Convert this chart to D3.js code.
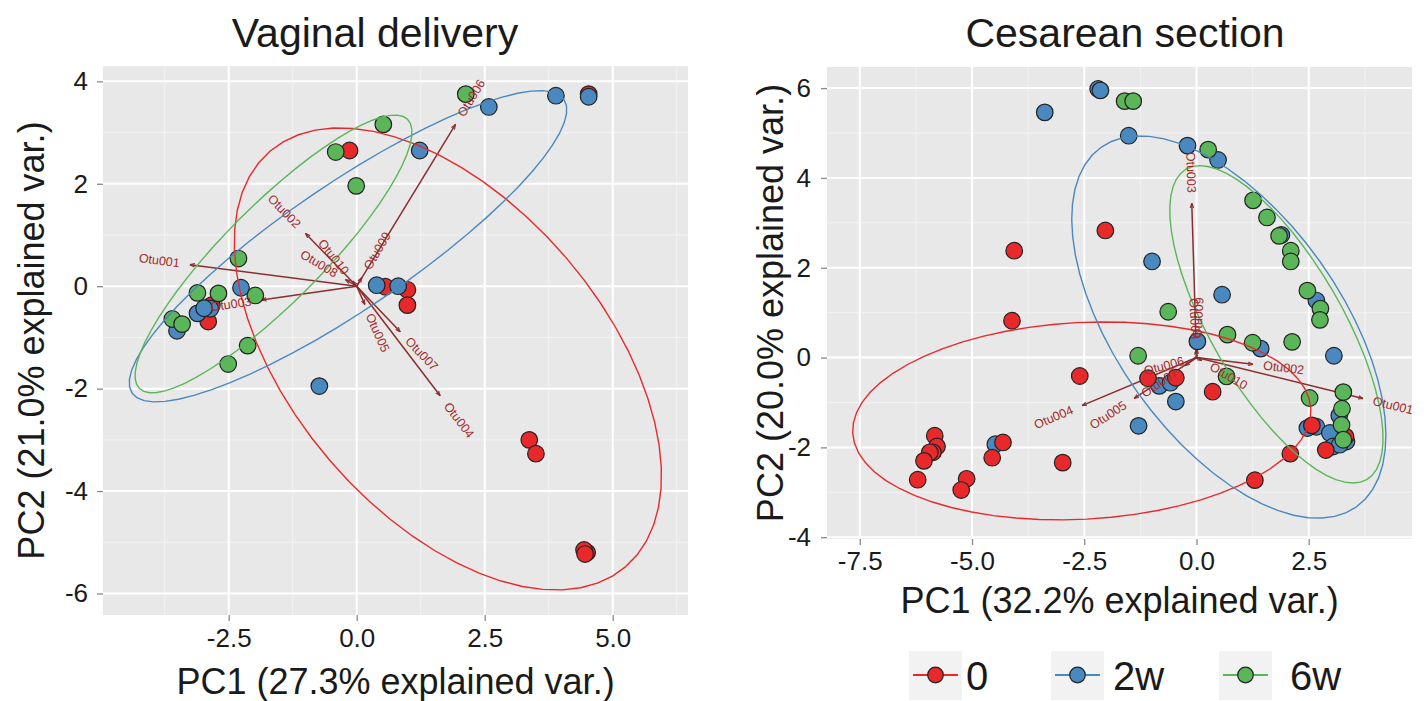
<!DOCTYPE html>
<html>
<head>
<meta charset="utf-8">
<script src="https://cdn.jsdelivr.net/npm/d3@7"></script>
<style>
  body { margin: 0; background: #fff; }
  text { font-family: "Liberation Sans", Arial, Helvetica, sans-serif; }
</style>
</head>
<body>
<div id="chart"></div>
<script>
// groups (legend order)
const groups = ["0", "2w", "6w"];
const groupColors = ["#e8292c", "#4a88c0", "#5bb65a"];

// ---- Vaginal delivery: PC scores per group ----
const vaginal0 = [[-0.14, 2.65], [4.53, 3.75], [0.56, -0.01], [0.99, -0.07], [0.99, -0.37], [-2.83, -0.37],
  [-2.90, -0.69], [3.37, -3.00], [3.50, -3.27], [4.50, -5.20], [4.44, -5.15], [4.46, -5.23]];
const vaginal2w = [[2.58, 3.50], [1.23, 2.65], [3.89, 3.72], [4.53, 3.70], [0.39, 0.02], [0.81, 0.00],
  [-2.26, -0.03], [-2.86, -0.44], [-3.11, -0.53], [-2.98, -0.43], [-3.51, -0.87], [-0.73, -1.95]];
const vaginal6w = [[0.52, 3.16], [-0.41, 2.62], [-0.01, 1.96], [2.13, 3.75], [-2.31, 0.54], [-1.98, -0.18],
  [-3.11, -0.13], [-2.70, -0.14], [-3.60, -0.64], [-3.41, -0.74], [-2.13, -1.16], [-2.51, -1.52]];

// loadings (arrow ends)
const otuNames = ["Otu001", "Otu002", "Otu003", "Otu004", "Otu005", "Otu006", "Otu007", "Otu008", "Otu009", "Otu010"];
const vagLoadPC1 = [-3.26, -1.00, -1.86, 1.63, 0.16, 1.93, 0.85, -0.22, 0.10, -0.08];
const vagLoadPC2 = [0.42, 1.03, -0.27, -2.14, -0.36, 3.16, -0.89, 0.13, 0.17, 0.10];

// normal data ellipses per group: centre, semi-axes, rotation (deg)
const vagEllCx = [1.78, -0.17, -1.625];
const vagEllCy = [-1.42, 0.78, 0.63];
const vagEllA = [5.34, 5.10, 3.71];
const vagEllB = [3.04, 1.22, 0.95];
const vagEllAngle = [-49.4, 34.2, 45.1];

// ---- Cesarean section ----
const ces0 = [[-2.03, 2.83], [-4.06, 2.38], [-4.11, 0.82], [-1.08, -0.46], [-0.46, -0.45], [0.36, -0.76],
  [2.57, -1.51], [3.32, -1.76], [2.88, -2.06], [2.09, -2.14], [1.30, -2.73], [-2.60, -0.41],
  [-5.83, -1.74], [-5.78, -1.98], [-5.87, -2.11], [-5.94, -2.11], [-6.07, -2.30], [-6.21, -2.72],
  [-5.12, -2.70], [-5.24, -2.95], [-4.31, -1.89], [-4.55, -2.23], [-2.98, -2.34]];
const ces2w = [[-2.19, 5.98], [-2.14, 5.95], [-3.38, 5.46], [-1.51, 4.94], [-0.20, 4.72], [0.48, 4.40],
  [1.89, 2.73], [-0.99, 2.14], [2.67, 1.27], [0.57, 1.40], [1.43, 0.20], [3.06, 0.04], [0.02, 0.36],
  [-0.83, -0.63], [-0.58, -0.56], [-0.46, -0.98], [-1.29, -1.52], [3.18, -1.29], [2.47, -1.57],
  [2.67, -1.54], [2.97, -1.68], [3.34, -1.87], [3.04, -1.98], [3.19, -1.94], [-4.48, -1.93]];
const ces6w = [[-1.60, 5.71], [-1.41, 5.71], [0.26, 4.63], [1.26, 3.50], [1.57, 3.12], [1.84, 2.71],
  [2.10, 2.38], [2.10, 2.14], [2.47, 1.49], [2.76, 1.09], [2.75, 0.84], [-0.63, 1.02], [0.69, 0.51],
  [1.25, 0.33], [2.13, 0.35], [-1.30, 0.04], [0.67, -0.42], [2.52, -0.90], [3.27, -0.77],
  [3.24, -1.14], [3.23, -1.50], [3.27, -1.83]];

const cesLoadPC1 = [3.71, 1.26, -0.105, -2.55, -1.39, -0.06, -0.26, -0.01, 0.01, 0.12];
const cesLoadPC2 = [-0.91, -0.15, 3.44, -1.07, -0.91, -0.016, -0.18, 0.18, 0.20, -0.07];

const cesEllCx = [-2.555, 0.72, 1.78];
const cesEllCy = [-1.41, 0.68, 0.74];
const cesEllA = [5.11, 4.91, 4.0];
const cesEllB = [2.19, 2.50, 1.46];
const cesEllAngle = [3.05, -54.6, -59.8];

// tick values
const vagXTicks = [-2.5, 0, 2.5, 5.0];
const vagYTicks = [-6, -4, -2, 0, 2, 4];
const cesXTicks = [-7.5, -5.0, -2.5, 0, 2.5];
const cesYTicks = [-4, -2, 0, 2, 4, 6];

// svg
const W = 1424, H = 701;
const svg = d3.select("#chart").append("svg")
  .attr("width", W).attr("height", H);

const arrowCol = "#8b2e2e", labelCol = "#a12a2a";

svg.append("defs").append("marker")
  .attr("id", "arrowhead")
  .attr("viewBox", "0 0 10 10")
  .attr("refX", 10).attr("refY", 5)
  .attr("markerWidth", 5).attr("markerHeight", 5)
  .attr("markerUnits", "userSpaceOnUse")
  .attr("orient", "auto")
  .append("path")
  .attr("d", "M0,1.5 L10,5 L0,8.5")
  .attr("fill", "none")
  .attr("stroke", arrowCol)
  .attr("stroke-width", 2.2);

function drawPanel(p) {
  const x = d3.scaleLinear().domain(p.xDomain).range([p.left, p.right]);
  const y = d3.scaleLinear().domain(p.yDomain).range([p.bottom, p.top]);
  const g = svg.append("g");

  // background
  g.append("rect")
    .attr("x", p.left).attr("y", p.top)
    .attr("width", p.right - p.left).attr("height", p.bottom - p.top)
    .attr("fill", "#e8e8e8");

  // minor grid
  g.selectAll(".vminor").data(p.xMinor).join("line")
    .attr("x1", d => x(d)).attr("x2", d => x(d))
    .attr("y1", p.top).attr("y2", p.bottom)
    .attr("stroke", "#f2f2f2").attr("stroke-width", 1);
  g.selectAll(".hminor").data(p.yMinor).join("line")
    .attr("y1", d => y(d)).attr("y2", d => y(d))
    .attr("x1", p.left).attr("x2", p.right)
    .attr("stroke", "#f2f2f2").attr("stroke-width", 1);
  // major grid
  g.selectAll(".vmajor").data(p.xTicks).join("line")
    .attr("x1", d => x(d)).attr("x2", d => x(d))
    .attr("y1", p.top).attr("y2", p.bottom)
    .attr("stroke", "#fff").attr("stroke-width", 2);
  g.selectAll(".hmajor").data(p.yTicks).join("line")
    .attr("y1", d => y(d)).attr("y2", d => y(d))
    .attr("x1", p.left).attr("x2", p.right)
    .attr("stroke", "#fff").attr("stroke-width", 2);

  // axes
  const xAxis = g.append("g")
    .attr("transform", `translate(0,${p.bottom})`)
    .call(d3.axisBottom(x).tickValues(p.xTicks).tickFormat(d3.format(".1f")).tickSize(6).tickPadding(p.xPad));
  const yAxis = g.append("g")
    .attr("transform", `translate(${p.left},0)`)
    .call(d3.axisLeft(y).tickValues(p.yTicks).tickFormat(d3.format("d")).tickSize(6).tickPadding(p.yPad));
  [xAxis, yAxis].forEach(a => {
    a.select(".domain").remove();
    a.selectAll(".tick line").attr("stroke", "#8a8a8a").attr("stroke-width", 1.3);
    a.selectAll(".tick text")
      .attr("fill", "#1a1a1a")
      .style("font-size", p.tickFont + "px")
      .style("font-family", '"Liberation Sans", Arial, sans-serif');
  });
  // use plain hyphen like the original
  g.selectAll(".tick text").text(function() { return this.textContent.replace("\u2212", "-"); });

  // loading arrows
  const loads = otuNames.map((n, i) => ({ name: n, x: p.loadX[i], y: p.loadY[i] }));
  g.selectAll(".arrow").data(loads).join("line")
    .attr("x1", x(0)).attr("y1", y(0))
    .attr("x2", d => x(d.x)).attr("y2", d => y(d.y))
    .attr("stroke", arrowCol).attr("stroke-width", 1.5)
    .attr("marker-end", "url(#arrowhead)");

  // points
  p.points.forEach((pts, gi) => {
    g.selectAll(null).data(pts).join("circle")
      .attr("cx", d => x(d[0])).attr("cy", d => y(d[1]))
      .attr("r", 8.3)
      .attr("fill", groupColors[p.pointOrder[gi]])
      .attr("stroke", "#222").attr("stroke-width", 1.2);
  });

  // ellipses
  const line = d3.line().x(d => x(d[0])).y(d => y(d[1]));
  groups.forEach((grp, i) => {
    const th = p.ellAngle[i] * Math.PI / 180;
    const pts = d3.range(0, 61).map(k => {
      const t = k / 60 * 2 * Math.PI;
      const ex = p.ellA[i] * Math.cos(t), ey = p.ellB[i] * Math.sin(t);
      return [p.ellCx[i] + ex * Math.cos(th) - ey * Math.sin(th),
              p.ellCy[i] + ex * Math.sin(th) + ey * Math.cos(th)];
    });
    g.append("path")
      .attr("d", line(pts))
      .attr("fill", "none")
      .attr("stroke", groupColors[i])
      .attr("stroke-width", 1.4);
  });

  // loading labels, ggbiplot style: angle along arrow, hjust beyond tip
  g.selectAll(".otu").data(loads).join("text")
    .attr("x", d => x(d.x)).attr("y", d => y(d.y))
    .attr("transform", d => {
      const ang = Math.atan(d.y / d.x) * 180 / Math.PI;
      return `rotate(${-ang},${x(d.x)},${y(d.y)})`;
    })
    .attr("fill", labelCol)
    .style("font-size", "12.5px")
    .attr("dominant-baseline", "central")
    .text(d => d.name)
    .each(function(d) {
      const w = this.getComputedTextLength();
      const hj = (1 - 1.5 * Math.sign(d.x)) / 2;
      d3.select(this).attr("dx", -hj * w);
    });

  // title and axis labels
  g.append("text")
    .attr("x", p.titleX).attr("y", 47)
    .attr("text-anchor", "middle")
    .style("font-size", "41px")
    .attr("fill", "#1a1a1a")
    .text(p.title);
  g.append("text")
    .attr("x", (p.left + p.right) / 2).attr("y", p.xLabY)
    .attr("text-anchor", "middle")
    .style("font-size", "36px")
    .attr("fill", "#1a1a1a")
    .text(p.xLab);
  g.append("text")
    .attr("transform", `translate(${p.yLabX},${(p.top + p.bottom) / 2}) rotate(-90)`)
    .attr("text-anchor", "middle")
    .style("font-size", "36px")
    .attr("fill", "#1a1a1a")
    .text(p.yLab);
}

drawPanel({
  left: 103, right: 688, top: 66, bottom: 615,
  xDomain: [-4.955, 6.47], yDomain: [-6.42, 4.30],
  xTicks: vagXTicks, yTicks: vagYTicks,
  xMinor: [-3.75, -1.25, 1.25, 3.75, 6.25], yMinor: [-5, -3, -1, 1, 3],
  xPad: 8, yPad: 9, tickFont: 26,
  loadX: vagLoadPC1, loadY: vagLoadPC2,
  points: [vaginal0, vaginal2w, vaginal6w], pointOrder: [0, 1, 2],
  ellCx: vagEllCx, ellCy: vagEllCy, ellA: vagEllA, ellB: vagEllB, ellAngle: vagEllAngle,
  title: "Vaginal delivery", titleX: 375,
  xLab: "PC1 (27.3% explained var.)", xLabY: 694,
  yLab: "PC2 (21.0% explained var.)", yLabX: 44
});

drawPanel({
  left: 827, right: 1412, top: 67, bottom: 539,
  xDomain: [-8.23, 4.80], yDomain: [-4.04, 6.47],
  xTicks: cesXTicks, yTicks: cesYTicks,
  xMinor: [-6.25, -3.75, -1.25, 1.25, 3.75], yMinor: [-3, -1, 1, 3, 5],
  xPad: 7, yPad: 10, tickFont: 26,
  loadX: cesLoadPC1, loadY: cesLoadPC2,
  points: [ces2w, ces0, ces6w], pointOrder: [1, 0, 2],
  ellCx: cesEllCx, ellCy: cesEllCy, ellA: cesEllA, ellB: cesEllB, ellAngle: cesEllAngle,
  title: "Cesarean section", titleX: 1125,
  xLab: "PC1 (32.2% explained var.)", xLabY: 613,
  yLab: "PC2 (20.0% explained var.)", yLabX: 783
});

// legend
const legendKeyX = [909, 1051, 1219];
const legendLabX = [966, 1113, 1290];
const leg = svg.append("g");
groups.forEach((grp, i) => {
  leg.append("rect")
    .attr("x", legendKeyX[i]).attr("y", 651)
    .attr("width", 53).attr("height", 49)
    .attr("fill", "#f2f2f2");
  leg.append("line")
    .attr("x1", legendKeyX[i] + 4).attr("x2", legendKeyX[i] + 49)
    .attr("y1", 675).attr("y2", 675)
    .attr("stroke", groupColors[i]).attr("stroke-width", 2);
  leg.append("circle")
    .attr("cx", legendKeyX[i] + 26.5).attr("cy", 675)
    .attr("r", 7.8)
    .attr("fill", groupColors[i])
    .attr("stroke", "#222").attr("stroke-width", 1.2);
  leg.append("text")
    .attr("x", legendLabX[i]).attr("y", 690)
    .style("font-size", "40px")
    .attr("fill", "#1a1a1a")
    .text(grp);
});
</script>
</body>
</html>
